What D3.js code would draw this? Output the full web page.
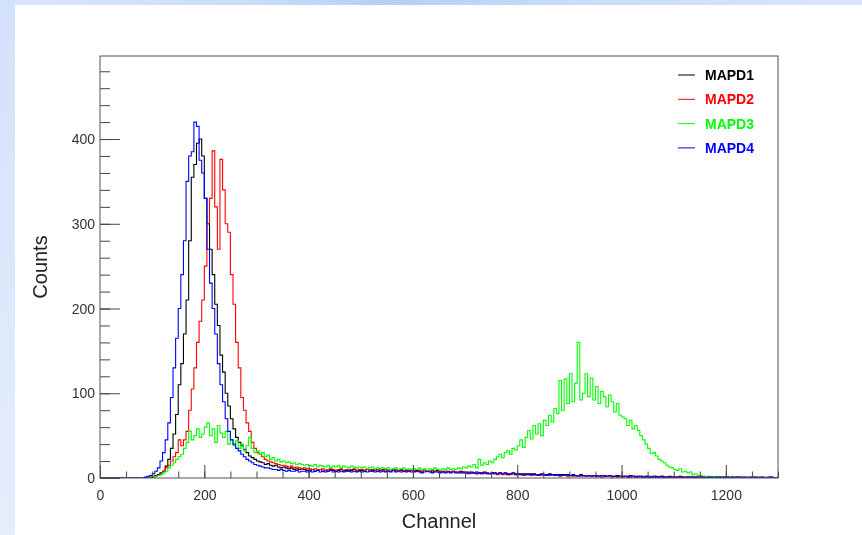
<!DOCTYPE html>
<html>
<head>
<meta charset="utf-8">
<script src="https://cdn.jsdelivr.net/npm/d3@7"></script>
<style>
  body { margin: 0; background: #fff; }
  svg { filter: blur(0.5px); }
  svg text { font-family: "Liberation Sans", Arial, sans-serif; }
</style>
</head>
<body>
<div id="chart"></div>
<script>
// Histogram settings (channels 0..1300, 5-channel bins)
const binWidth = 5;
const channelRange = [0, 1300];
const countRange = [0, 498];
const xTickValues = [0, 200, 400, 600, 800, 1000, 1200];
const yTickValues = [0, 100, 200, 300, 400];
const seriesNames = ["MAPD1", "MAPD2", "MAPD3", "MAPD4"];

// bin contents, 20 bins (100 channels) per row
const mapd1 = [
  0,0,0,0,0,0,0,0,0,0, 0,0,0,0,0,0,0,0,1,1,
  2,3,4,6,8,14,22,35,52,75, 110,135,170,210,280,355,370,395,400,380,
  330,300,270,240,205,180,145,125,100,85, 70,58,48,42,38,34,30,26,24,22,
  20,19,18,16,17,15,14,15,13,12, 13,12,11,12,10,11,10,11,10,9,
  9,10,8,9,10,8,9,8,10,9, 8,9,10,8,9,8,9,10,8,9,
  9,8,10,9,8,9,8,9,10,8, 9,8,9,8,10,9,8,9,8,9,
  8,9,8,7,9,8,8,7,8,9, 7,8,7,8,7,8,7,7,8,7,
  7,6,7,6,7,6,6,7,6,5, 6,6,5,6,5,6,5,5,6,5,
  5,5,4,5,5,4,5,4,4,5, 4,4,5,4,4,3,4,4,3,4,
  3,4,3,3,4,3,3,3,2,3, 3,2,3,3,2,3,2,2,3,2,
  2,2,2,3,2,2,2,2,1,2, 2,1,2,2,1,2,1,1,2,1,
  1,1,2,1,1,1,1,1,1,1, 1,1,0,1,1,1,0,1,1,0,
  1,0,1,1,0,1,0,1,0,0, 1,0,0,1,0,0,1,0,0,0
];

const mapd2 = [
  0,0,0,0,0,0,0,0,0,0, 0,0,0,0,0,0,0,0,0,1,
  1,2,3,5,8,12,15,20,25,30, 45,38,45,55,80,105,130,160,185,210,
  250,300,330,386,320,270,376,340,300,290, 240,205,160,130,95,80,65,55,42,35,
  30,28,25,22,20,19,18,17,16,15, 15,14,13,14,12,13,12,11,12,11,
  11,10,11,10,10,11,9,10,11,10, 9,10,11,9,10,9,10,11,9,10,
  10,9,10,9,10,9,10,11,9,10, 9,10,9,10,9,10,9,8,9,9,
  9,8,9,8,9,8,8,9,8,7, 8,7,8,7,7,8,7,7,6,7,
  6,7,6,6,5,6,5,6,5,5, 5,5,4,5,4,5,4,4,5,4,
  4,4,3,4,4,3,4,3,3,4, 3,3,3,4,3,3,2,3,3,2,
  3,2,2,3,2,2,3,2,2,2, 2,2,1,2,2,2,1,2,1,2,
  1,2,1,1,2,1,1,1,1,1, 1,1,1,0,1,1,1,0,1,1,
  1,0,1,1,0,1,0,1,0,1, 0,1,0,0,1,0,1,0,0,1,
  0,1,0,0,1,0,0,0,1,0, 0,0,1,0,0,0,0,1,0,0
];

const mapd3 = [
  0,0,0,0,0,0,0,0,0,0, 0,0,0,0,0,0,0,0,0,1,
  1,2,3,4,6,8,12,15,18,22, 25,28,35,42,55,45,50,58,48,52,
  60,65,50,58,42,62,53,48,55,40, 45,38,44,35,40,32,38,48,35,30,
  32,28,30,25,27,22,24,20,22,19, 20,18,19,17,18,16,17,16,15,16,
  15,14,16,13,15,14,13,15,12,14, 13,15,12,14,13,12,14,13,12,13,
  12,13,11,12,13,11,12,10,12,11, 12,10,11,12,10,11,12,10,11,10,
  11,10,12,10,11,9,11,10,12,10, 9,11,10,12,10,11,10,12,11,13,
  12,14,13,16,12,22,15,18,16,20, 18,22,25,28,24,30,32,28,35,33,
  38,45,36,48,56,46,62,52,64,50, 68,62,74,66,82,76,115,80,117,88,
  123,90,112,160,92,100,123,96,118,92, 108,88,102,96,84,98,90,78,88,74,
  72,70,62,68,58,62,56,50,45,40, 35,29,30,26,22,20,18,15,13,12,
  10,9,11,7,8,6,7,4,5,3, 3,2,2,2,1,1,1,1,0,1,
  0,0,1,0,0,0,0,0,0,0, 0,0,0,0,0,0,0,0,0,0
];

const mapd4 = [
  0,0,0,0,0,0,0,0,0,0, 0,0,0,0,0,0,0,1,2,3,
  5,8,12,20,30,45,65,95,130,165, 200,240,280,350,380,385,420,415,375,360,
  330,270,230,200,170,135,110,90,70,55, 45,40,35,32,28,25,22,20,18,16,
  15,14,13,12,12,11,10,10,9,10, 9,8,9,8,8,9,7,8,8,7,
  8,7,8,9,7,8,7,8,9,7, 8,7,8,7,8,9,7,8,7,8,
  7,8,7,8,9,7,8,7,8,7, 8,7,9,7,8,7,8,7,8,7,
  7,8,7,6,7,8,7,6,7,7, 6,7,6,7,6,7,6,6,7,6,
  6,5,6,6,5,6,5,6,5,5, 6,5,5,6,5,5,4,5,5,4,
  5,4,5,4,4,5,4,4,3,4, 4,3,4,4,3,4,3,3,4,3,
  3,3,3,2,3,3,2,3,2,3, 2,2,3,2,2,3,2,2,2,2,
  2,2,1,2,2,1,2,2,1,2, 1,1,2,1,1,2,1,1,1,1,
  1,1,1,1,0,1,1,1,1,0, 1,1,0,1,1,0,1,1,0,1,
  1,0,1,0,1,0,1,0,0,1, 0,1,0,0,1,0,0,1,0,0
];

const seriesData = [mapd1, mapd2, mapd3, mapd4];
const seriesColors = ["#000000", "#ff0000", "#00ff00", "#0000ff"];

const W = 862, H = 535;
const frame = {left: 100, right: 778, top: 56, bottom: 478};
const plotW = frame.right - frame.left;
const plotH = frame.bottom - frame.top;

const svg = d3.select("#chart").append("svg")
    .attr("width", W)
    .attr("height", H);

// slide background: blue strips on left and top
const defs = svg.append("defs");
const gTop = defs.append("linearGradient").attr("id", "topGrad");
gTop.append("stop").attr("offset", "0%").attr("stop-color", "#dbe7fb");
gTop.append("stop").attr("offset", "30%").attr("stop-color", "#c9dcf9");
gTop.append("stop").attr("offset", "45%").attr("stop-color", "#b4cff6");
gTop.append("stop").attr("offset", "65%").attr("stop-color", "#c8dbf9");
gTop.append("stop").attr("offset", "100%").attr("stop-color", "#dae6fb");
const gLeft = defs.append("linearGradient").attr("id", "leftGrad")
    .attr("x1", 0).attr("y1", 0).attr("x2", 0).attr("y2", 1);
gLeft.append("stop").attr("offset", "0%").attr("stop-color", "#d3e2fb");
gLeft.append("stop").attr("offset", "100%").attr("stop-color", "#e4edfc");

svg.append("rect").attr("width", W).attr("height", H).attr("fill", "#fff");
svg.append("rect").attr("width", W).attr("height", 5).attr("fill", "url(#topGrad)");
svg.append("rect").attr("width", 15).attr("height", H).attr("fill", "url(#leftGrad)");

defs.append("clipPath").attr("id", "plotClip")
  .append("rect")
    .attr("x", frame.left).attr("y", frame.top)
    .attr("width", plotW).attr("height", plotH);

const x = d3.scaleLinear().domain(channelRange).range([frame.left, frame.right]);
const y = d3.scaleLinear().domain(countRange).range([frame.bottom, frame.top]);

// histograms, drawn as steps
const line = d3.line()
    .x(d => x(d[0]))
    .y(d => y(d[1]))
    .curve(d3.curveStepAfter);

const hists = svg.append("g").attr("clip-path", "url(#plotClip)");
seriesData.forEach((counts, k) => {
    const pts = counts.map((c, i) => [channelRange[0] + i * binWidth, c]);
    pts.push([channelRange[1], counts[counts.length - 1]]);
    hists.append("path")
        .datum(pts)
        .attr("fill", "none")
        .attr("stroke", seriesColors[k])
        .attr("stroke-width", 1.1)
        .attr("d", line);
});

// axes: major + minor ticks drawn inside the frame
const axisColor = "#444";
const xMinor = d3.range(channelRange[0], channelRange[1] + 1, 50);
const yMinor = d3.range(countRange[0], countRange[1], 20);

svg.append("g")
    .attr("transform", `translate(0,${frame.bottom})`)
    .call(d3.axisBottom(x).tickValues(xMinor).tickSize(-6.5).tickSizeOuter(0).tickFormat(""))
    .call(g => g.select(".domain").remove());
svg.append("g")
    .attr("class", "xaxis")
    .attr("transform", `translate(0,${frame.bottom})`)
    .call(d3.axisBottom(x).tickValues(xTickValues).tickSize(-13).tickSizeOuter(0)
        .tickPadding(12).tickFormat(d3.format("d")))
    .call(g => g.select(".domain").remove())
    .attr("font-size", 14);

svg.append("g")
    .attr("transform", `translate(${frame.left},0)`)
    .call(d3.axisLeft(y).tickValues(yMinor).tickSize(-10).tickSizeOuter(0).tickFormat(""))
    .call(g => g.select(".domain").remove());
svg.append("g")
    .attr("class", "yaxis")
    .attr("transform", `translate(${frame.left},0)`)
    .call(d3.axisLeft(y).tickValues(yTickValues).tickSize(-20).tickSizeOuter(0)
        .tickPadding(5).tickFormat(d3.format("d")))
    .call(g => g.select(".domain").remove())
    .attr("font-size", 14);

svg.selectAll(".tick line").attr("stroke", axisColor);
svg.selectAll(".xaxis text, .yaxis text").attr("fill", "#333");

// frame
svg.append("rect")
    .attr("x", frame.left).attr("y", frame.top)
    .attr("width", plotW).attr("height", plotH)
    .attr("fill", "none")
    .attr("stroke", "#555")
    .attr("stroke-width", 1);

// axis titles
svg.append("text")
    .attr("x", (frame.left + frame.right) / 2)
    .attr("y", 528)
    .attr("text-anchor", "middle")
    .attr("fill", "#222")
    .style("font-size", "20px")
    .text("Channel");

svg.append("text")
    .attr("transform", `translate(47,${(frame.top + frame.bottom) / 2}) rotate(-90)`)
    .attr("text-anchor", "middle")
    .attr("fill", "#222")
    .style("font-size", "20px")
    .text("Counts");

// legend
const legend = svg.append("g").attr("transform", "translate(678,75)");
seriesNames.forEach((name, k) => {
    const row = legend.append("g").attr("transform", `translate(0,${k * 24.3})`);
    row.append("line")
        .attr("x1", 0).attr("x2", 17)
        .attr("y1", 0).attr("y2", 0)
        .attr("stroke", seriesColors[k])
        .attr("stroke-width", 1);
    row.append("text")
        .attr("x", 27)
        .attr("y", 5)
        .attr("fill", seriesColors[k])
        .style("font-size", "14px")
        .style("font-weight", "bold")
        .text(name);
});
</script>
</body>
</html>
